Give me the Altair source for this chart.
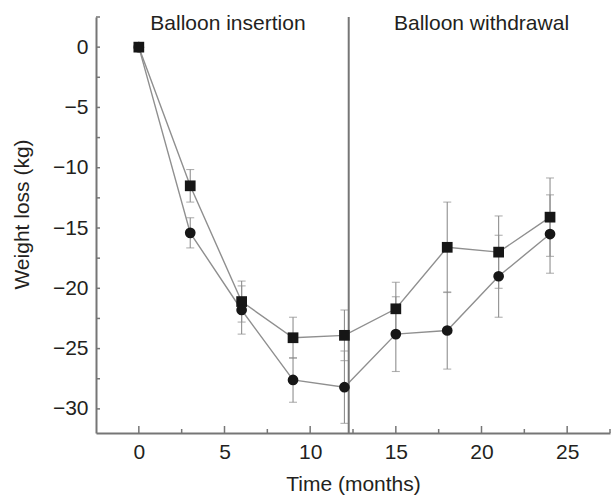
import altair as alt
import pandas as pd

# Mean weight change (kg) and SD at each visit, for the two groups
months = [0, 3, 6, 9, 12, 15, 18, 21, 24]
square_mean = [0, -11.5, -21.1, -24.1, -23.9, -21.7, -16.6, -17.0, -14.1]
square_sd = [0, 1.35, 1.7, 1.7, 2.1, 2.2, 3.75, 3.0, 3.25]
circle_mean = [0, -15.4, -21.8, -27.6, -28.2, -23.8, -23.5, -19.0, -15.5]
circle_sd = [0, 1.25, 2.0, 1.85, 3.0, 3.1, 3.2, 3.4, 3.25]
groups = ["Group A", "Group B"]
group_shapes = ["square", "circle"]

# Phase annotations and the withdrawal marker
phase_labels = ["Balloon insertion", "Balloon withdrawal"]
phase_label_month = [5.2, 20.0]
phase_label_kg = [1.45, 1.45]
withdrawal_month = 12.25

# Axis ticks
x_labels = [0, 5, 10, 15, 20, 25]
x_minor = [2.5, 7.5, 12.5, 17.5, 22.5, 27.5]
y_labels = [0, -5, -10, -15, -20, -25, -30]
y_ticks = [2.5, 0, -2.5, -5, -7.5, -10, -12.5, -15, -17.5, -20,
           -22.5, -25, -27.5, -30]

rows = []
for g, means, sds in ((groups[0], square_mean, square_sd),
                      (groups[1], circle_mean, circle_sd)):
    for m, v, s in zip(months, means, sds):
        rows.append({"month": m, "kg": v, "sd": s, "lo": v - s, "hi": v + s, "group": g})
df = pd.DataFrame(rows)
bars = df[df["sd"] > 0]

W, H = 514, 416
FONT = "Liberation Sans"
INK = "#231f20"
AXIS_GREY = "#767676"
LINE_GREY = "#8f8f8f"
FS = 21

xs = alt.Scale(domain=[-2.5, 27.5], nice=False, zero=False)
ys = alt.Scale(domain=[-32, 2.5], nice=False, zero=False)

x_axis = alt.Axis(values=x_labels, ticks=False, tickSize=0, grid=False,
                  domainColor=AXIS_GREY, domainWidth=2, labelFont=FONT,
                  labelFontSize=FS, labelColor=INK, labelPadding=8,
                  title="Time (months)", titleFont=FONT, titleFontSize=FS,
                  titleFontWeight="normal", titleColor=INK, titlePadding=11)
y_axis = alt.Axis(values=y_labels, ticks=False, tickSize=0, grid=False,
                  domainColor=AXIS_GREY, domainWidth=2, labelFont=FONT,
                  labelFontSize=FS, labelColor=INK, labelPadding=8,
                  title="Weight loss (kg)", titleFont=FONT, titleFontSize=FS,
                  titleFontWeight="normal", titleColor=INK, titlePadding=20,
                  titleY=197)


def xq(field):
    return alt.X(f"{field}:Q", scale=xs, axis=x_axis)


def yq(field):
    return alt.Y(f"{field}:Q", scale=ys, axis=y_axis)


lines = alt.Chart(df).mark_line(color=LINE_GREY, strokeWidth=1.4).encode(
    x=xq("month"), y=yq("kg"), detail="group:N",
)

err = alt.Chart(bars).mark_rule(color=LINE_GREY, strokeWidth=1.1).encode(
    x=xq("month"), y=yq("lo"), y2="hi:Q",
)

caps = alt.Chart(bars).transform_fold(["lo", "hi"], as_=["end", "val"]).mark_tick(
    orient="horizontal", size=8, thickness=1.1, color=LINE_GREY
).encode(x=xq("month"), y=yq("val"))

divider = alt.Chart(pd.DataFrame({"month": [withdrawal_month]})).mark_rule(
    color=AXIS_GREY, strokeWidth=2
).encode(x=xq("month"))

points = alt.Chart(df).mark_point(filled=True, opacity=1, color="#161616", size=115).encode(
    x=xq("month"),
    y=yq("kg"),
    shape=alt.Shape("group:N", scale=alt.Scale(domain=groups, range=group_shapes), legend=None),
)

# Inward-pointing tick marks along both axes
x_ticks_major = alt.Chart(pd.DataFrame({"month": x_labels})).mark_rule(
    color=AXIS_GREY, strokeWidth=1.5
).encode(x=xq("month"), y=alt.value(H), y2=alt.value(H - 7))
x_ticks_minor = alt.Chart(pd.DataFrame({"month": x_minor})).mark_rule(
    color=AXIS_GREY, strokeWidth=1.5
).encode(x=xq("month"), y=alt.value(H), y2=alt.value(H - 4))
y_tick_marks = alt.Chart(pd.DataFrame({"kg": y_ticks})).mark_rule(
    color=AXIS_GREY, strokeWidth=1.5
).encode(y=yq("kg"), x=alt.value(0), x2=alt.value(4))

phase_text = alt.Chart(pd.DataFrame({
    "month": phase_label_month, "kg": phase_label_kg, "label": phase_labels
})).mark_text(font=FONT, fontSize=FS, color=INK, align="center", baseline="alphabetic").encode(
    x=xq("month"), y=yq("kg"), text="label:N",
)

chart = alt.layer(
    lines, err, caps, divider, points, x_ticks_major, x_ticks_minor, y_tick_marks, phase_text
).properties(
    width=W, height=H,
    autosize=alt.AutoSizeParams(type="none"),
    padding={"left": 96, "top": 17, "right": 2, "bottom": 63},
    background="white",
).configure_view(stroke=None)

chart.save("out.html", embed_options={"renderer": "svg", "actions": False})
